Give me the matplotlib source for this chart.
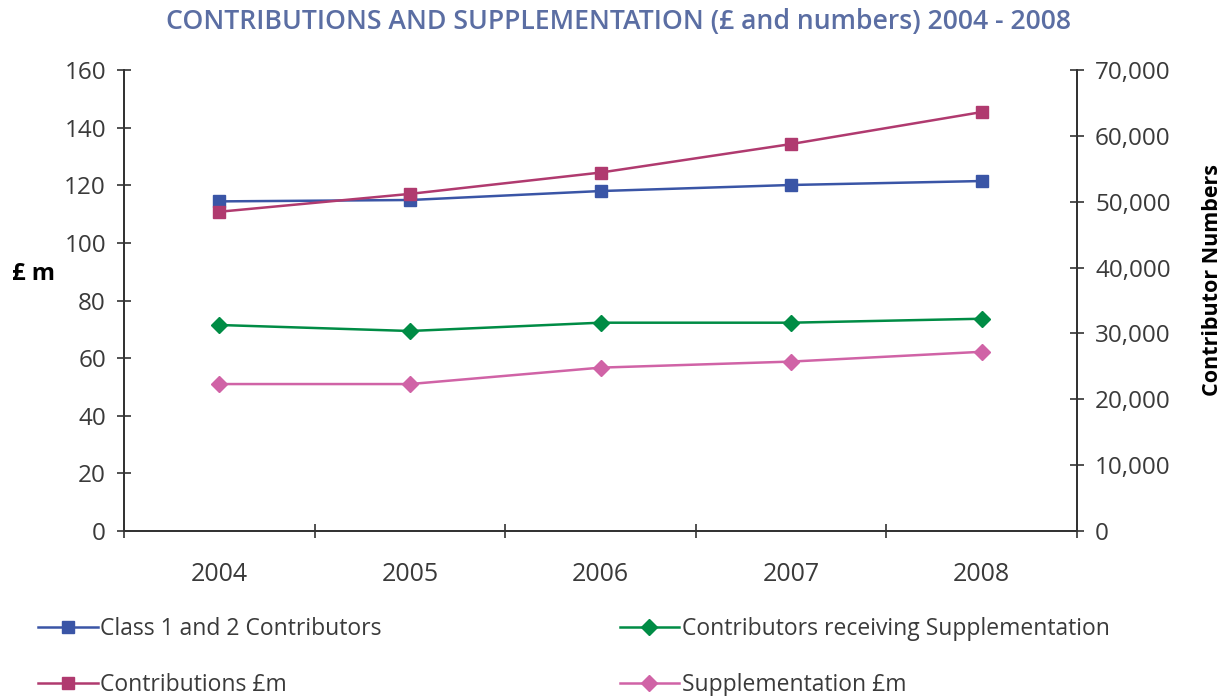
import matplotlib
matplotlib.use("Agg")
import matplotlib.pyplot as plt
from matplotlib.ticker import FuncFormatter

plt.rcParams['font.family'] = ['Open Sans', 'DejaVu Sans']

years = ["2004", "2005", "2006", "2007", "2008"]
class12_contributors = [50050, 50260, 51620, 52540, 53140]
contributors_supp = [31280, 30370, 31630, 31630, 32230]
contributions_m = [110.8, 117.0, 124.4, 134.3, 145.4]
supplementation_m = [51.0, 51.0, 56.7, 58.8, 62.2]

left_ticks = [0, 20, 40, 60, 80, 100, 120, 140, 160]
right_ticks = [0, 10000, 20000, 30000, 40000, 50000, 60000, 70000]

c_blue = "#3a55a6"
c_crim = "#b03a6f"
c_green = "#008c45"
c_pink = "#d063a6"
c_axis = "#333333"
c_text = "#3a3a3a"

fig = plt.figure(figsize=(12.28, 6.96), dpi=100)
ax = fig.add_axes([124/1228, 1-531/696, (1077-124)/1228, (531-70)/696])
ax2 = ax.twinx()

x = list(range(len(years)))

l1, = ax2.plot(x, class12_contributors, color=c_blue, lw=1.8, marker='s', ms=9,
               label="Class 1 and 2 Contributors")
l2, = ax2.plot(x, contributors_supp, color=c_green, lw=1.8, marker='D', ms=8,
               label="Contributors receiving Supplementation")
l3, = ax.plot(x, contributions_m, color=c_crim, lw=1.8, marker='s', ms=9,
              label="Contributions £m")
l4, = ax.plot(x, supplementation_m, color=c_pink, lw=1.8, marker='D', ms=8,
              label="Supplementation £m")

ax.set_xlim(-0.5, len(years) - 0.5)
ax.set_ylim(0, 160)
ax2.set_ylim(0, 70000)
ax.set_yticks(left_ticks)
ax2.set_yticks(right_ticks)
ax2.yaxis.set_major_formatter(FuncFormatter(lambda v, p: f"{int(v):,}"))

ax.set_xticks([i - 0.5 for i in range(len(years) + 1)])
ax.set_xticklabels([])
ax.set_xticks(x, minor=True)
ax.set_xticklabels(years, minor=True)
ax.tick_params(axis='x', which='minor', length=0, pad=22, labelsize=18, labelcolor=c_text)
ax.tick_params(axis='x', which='major', direction='inout', length=10, color=c_axis, width=1.2)
ax.tick_params(axis='y', direction='inout', length=10, color=c_axis, width=1.2,
               labelsize=17.5, labelcolor=c_text, pad=8)
ax2.tick_params(axis='y', direction='inout', length=10, color=c_axis, width=1.2,
                labelsize=17.5, labelcolor=c_text, pad=8)

for a in (ax, ax2):
    a.spines['top'].set_visible(False)
    for s in ('left', 'right', 'bottom'):
        a.spines[s].set_color(c_axis)
        a.spines[s].set_linewidth(1.3)

ax.set_zorder(ax2.get_zorder() + 1)
ax.patch.set_visible(False)

fig.text(34/1228, 1-274/696, "£ m", ha='center', va='center', fontsize=17,
         fontweight='bold', color='black')
fig.text(1213/1228, 1-280/696, "Contributor Numbers", ha='center', va='center',
         rotation=90, fontsize=15.5, fontweight='bold', color='black')

fig.text(619/1228, 1-22/696, "CONTRIBUTIONS AND SUPPLEMENTATION (£ and numbers) 2004 - 2008",
         ha='center', va='center', fontsize=19.2, fontweight='semibold', color="#5b6ea3")

leg = fig.legend(handles=[l1, l3, l2, l4], loc='upper left', ncol=2,
                 bbox_to_anchor=(38/1228, 1-617/696), frameon=False, borderpad=0,
                 borderaxespad=0,
                 fontsize=16.5, handlelength=2.6, handletextpad=0.1,
                 columnspacing=10.4, labelspacing=1.4, labelcolor=c_text)

fig.savefig("out.png", dpi=100)
